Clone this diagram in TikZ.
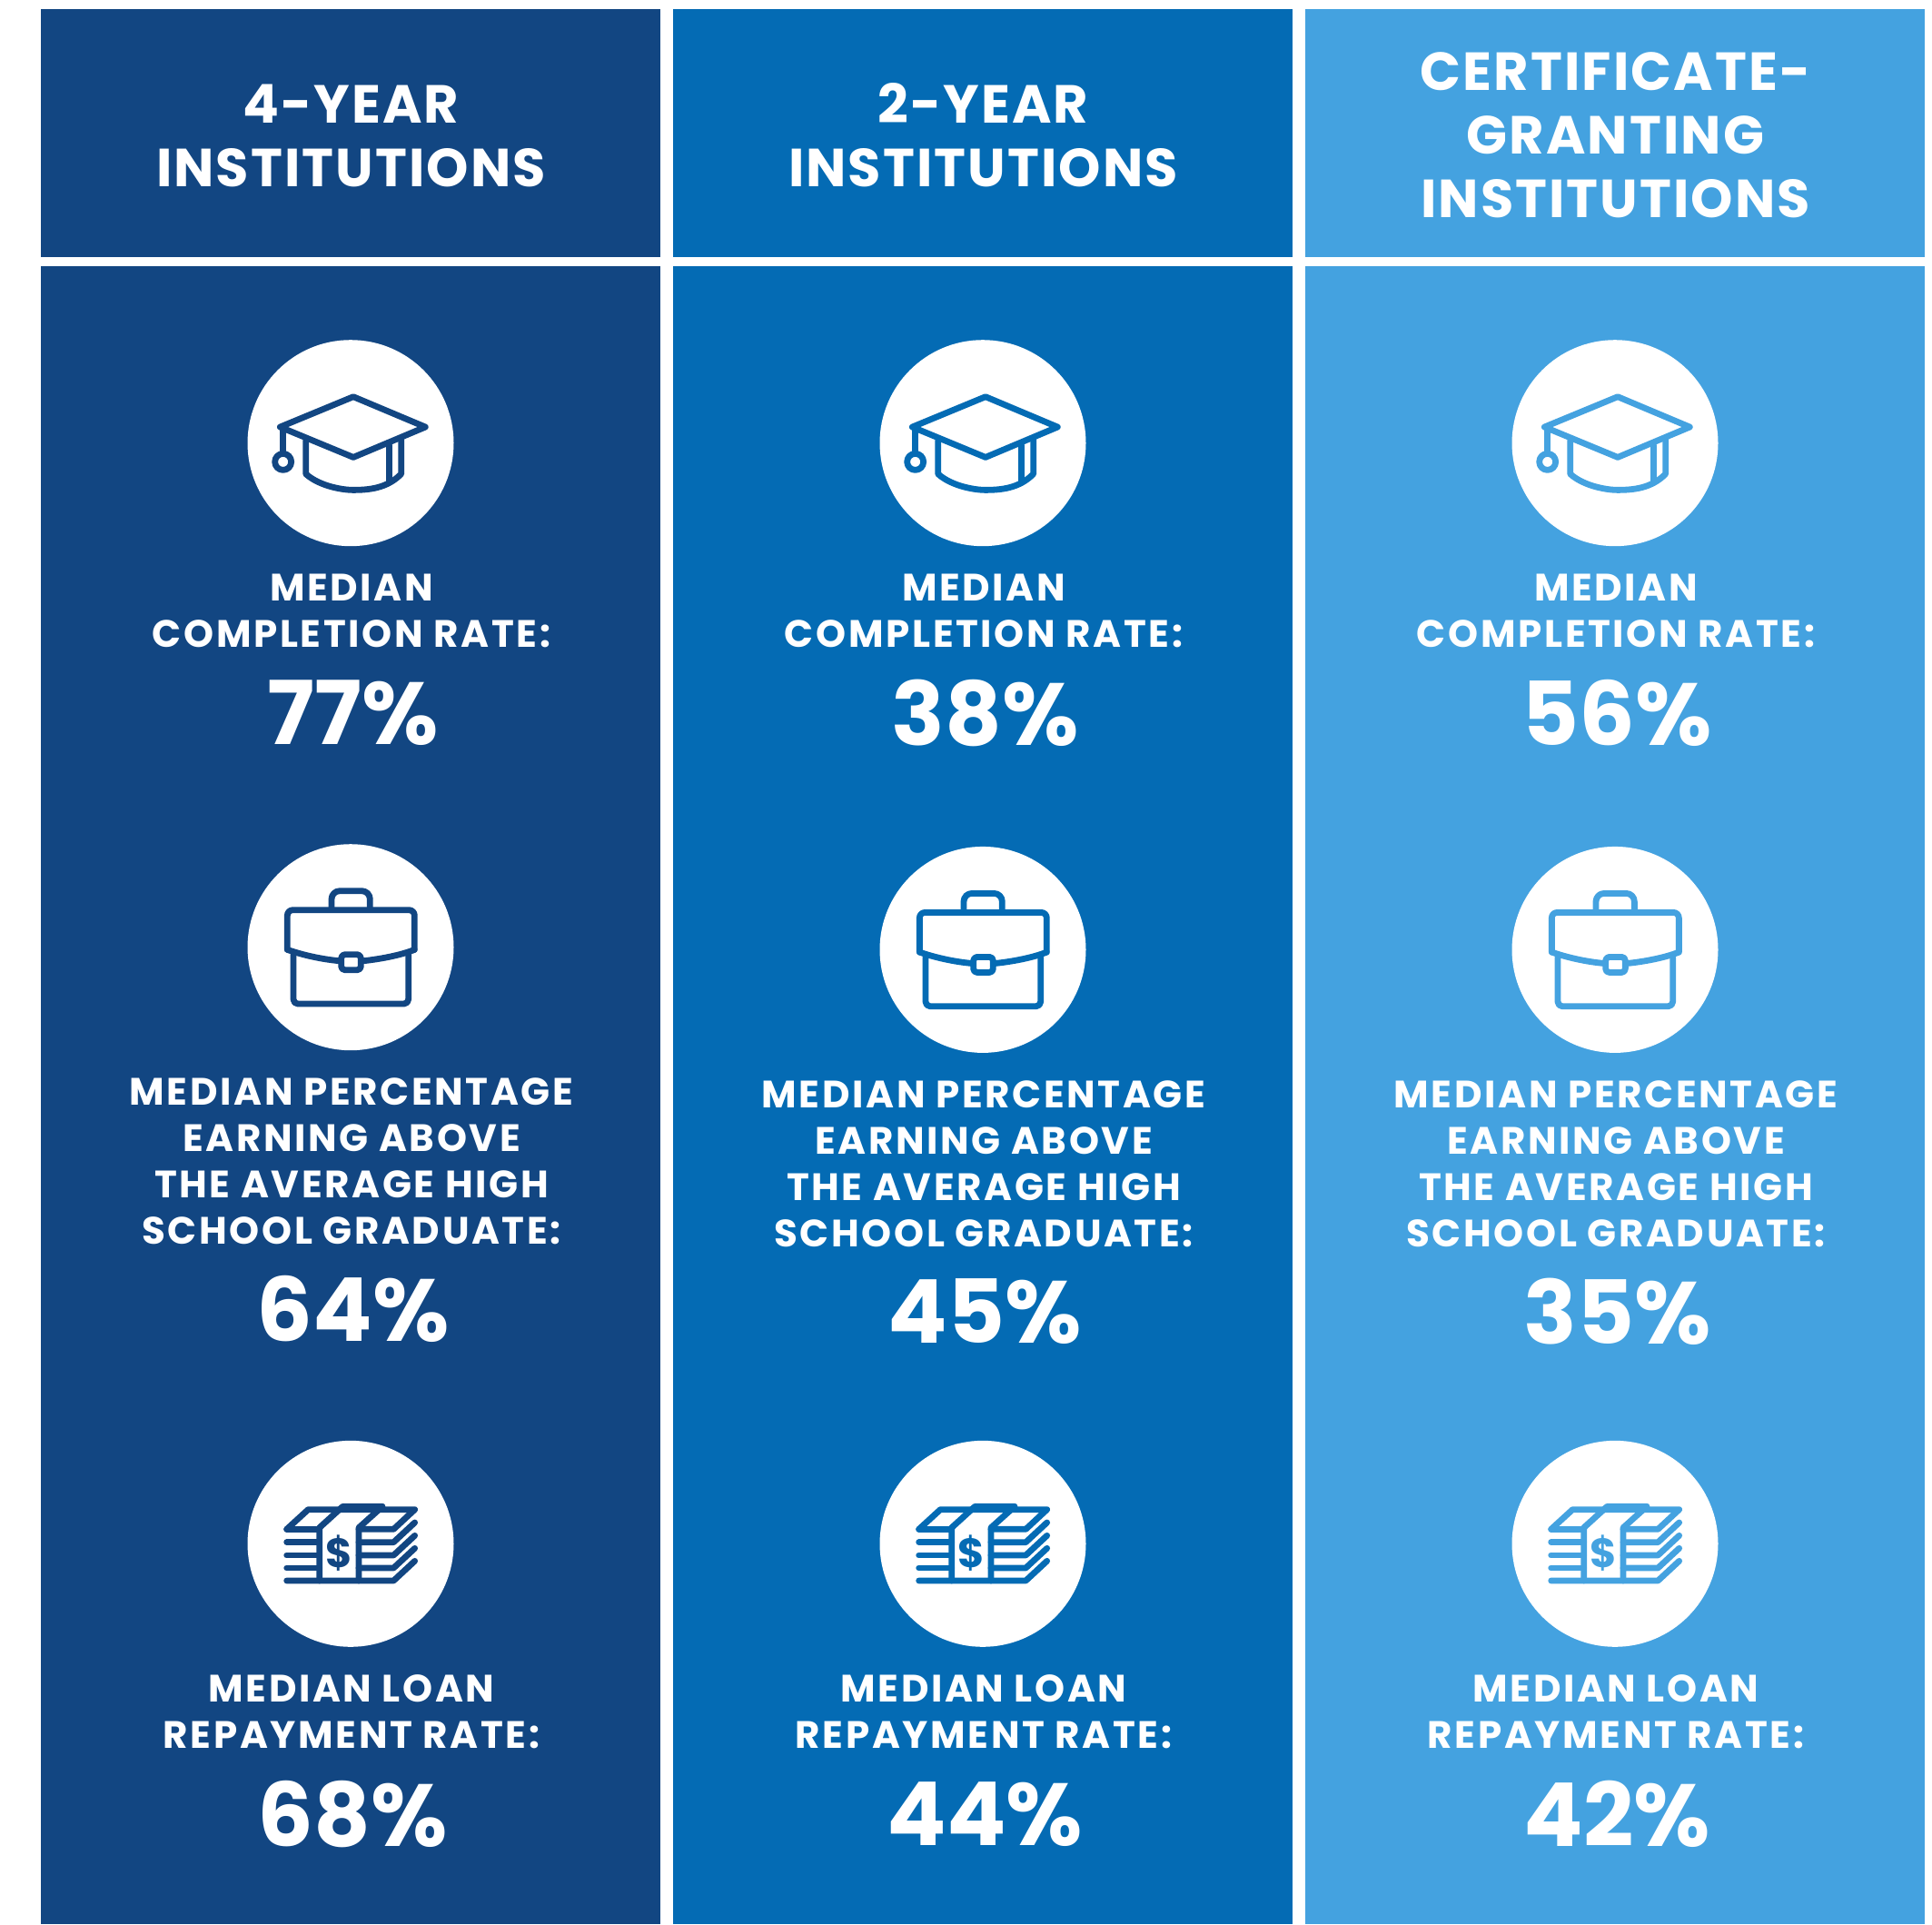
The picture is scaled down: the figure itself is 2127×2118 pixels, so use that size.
\documentclass[tikz,border=0pt]{standalone}
\usepackage{fontspec}
\setmainfont{Poppins}
\definecolor{navy}{HTML}{124682}
\definecolor{mid}{HTML}{046BB4}
\definecolor{sky}{HTML}{44A2E0}
\tikzset{
  x=1pt,y=-1pt,
  panel/.style={fill=#1,draw=none},
  disc/.style={circle,fill=white,draw=none,minimum size=227pt,inner sep=0pt},
  headtxt/.style={text=white,align=center,inner sep=0pt,font=\fontsize{59}{70}\selectfont\bfseries\addfontfeature{LetterSpace=3.5}},
  subtxt/.style={text=white,align=center,inner sep=0pt,font=\fontsize{42}{51}\selectfont\bfseries\addfontfeature{LetterSpace=6.3}},
  numtxt/.style={text=white,align=center,inner sep=0pt,font=\fontsize{97}{97}\selectfont\bfseries},
  icon/.style={draw=#1,line width=6.8pt,line join=round,line cap=round,fill=none},
}
\newcommand{\capicon}[3]{%
\begin{scope}[shift={(#1,#2)},x=.3333pt,y=-.3333pt]
\draw[icon=#3] (9,-153)--(247,-53)--(9,47)--(-233,-53)--cycle;
\draw[icon=#3] (-223,-53)--(-223,35);
\draw[icon=#3] (-223,62) circle (9pt);
\draw[icon=#3] (-148,-8)--(-148,102) .. controls (-100,145) and (-20,155) .. (7,155) .. controls (60,155) and (120,150) .. (167,102)--(167,-13);
\draw[icon=#3] (127,7)--(127,127);
\end{scope}}
\newcommand{\caseicon}[3]{%
\begin{scope}[shift={(#1,#2)},x=.3333pt,y=-.3333pt]
\draw[icon=#3,rounded corners=9pt] (-63,-128)--(-63,-186)--(64,-186)--(64,-128);
\draw[icon=#3] (-38,45) .. controls (-100,39) and (-160,25) .. (-209,8);
\draw[icon=#3,rounded corners=6pt] (-209,8)--(-209,-123)--(211,-123)--(211,8);
\draw[icon=#3] (211,8) .. controls (170,25) and (100,39) .. (42,45);
\draw[icon=#3,rounded corners=5pt] (-189,25)--(-189,187)--(191,187)--(191,25);
\draw[icon=#3,rounded corners=4pt] (-31,24) rectangle (34,75);
\end{scope}}
\newcommand{\cashicon}[3]{%
\begin{scope}[shift={(#1,#2)},x=.3333pt,y=-.3333pt]
\draw[icon=#3] (-211,-48)--(-140,-113)--(212,-113)--(142,-48)--(27,-48);
\draw[icon=#3] (-211,-48)--(-103,-48);
\draw[icon=#3] (-103,122)--(-103,-53)--(-26,-123)--(105,-123)--(27,-53)--(27,122);
\foreach \ly in {-5,38,80}{
  \draw[icon=#3] (-211,\ly)--(-103,\ly);
  \draw[icon=#3] (27,\ly)--(142,\ly)--(212,\ly-65);
}
\draw[icon=#3] (-211,122)--(142,122)--(212,57);
\end{scope}}
\begin{document}
\begin{tikzpicture}
\useasboundingbox (0,0) rectangle (2127,2118);
\fill[white] (0,0) rectangle (2127,2118);
\foreach \k/\xl/\xr/\colr in {a/45/727/navy,b/741/1423/mid,c/1437/2119/sky}{
  \fill[panel=\colr] (\xl,10) rectangle (\xr,283);
  \fill[panel=\colr] (\xl,293) rectangle (\xr,2118);
}
\node[headtxt] (ha) at (386.5,149) {4-YEAR\\INSTITUTIONS};
\node[headtxt] (hb) at (1082.5,149) {2-YEAR\\INSTITUTIONS};
\node[headtxt] (hc) at (1778.5,149) {CERTIFICATE-\\GRANTING\\INSTITUTIONS};
\foreach \k/\cx/\colr/\dy/\pa/\pb/\pc in {a/386/navy/0/77/64/68,b/1082/mid/2.7/38/45/44,c/1778/sky/2.7/56/35/42}{
  \pgfmathsetmacro{\yb}{1042.7+\dy}
  \node[disc] (d1\k) at (\cx,487.7) {};
  \node[disc] (d2\k) at (\cx,\yb) {};
  \node[disc] (d3\k) at (\cx,1699.3) {};
  \capicon{\cx}{487.7}{\colr}
  \caseicon{\cx}{\yb}{\colr}
  \cashicon{\cx}{1699.3}{\colr}
  \node[text=\colr,inner sep=0pt,font=\fontsize{45}{45}\selectfont\bfseries] (dol\k) at (\cx-13,1710) {\$};
  \node[subtxt] (s1\k) at (\cx+1,672.8) {MEDIAN\\COMPLETION RATE:};
  \node[numtxt] (n1\k) at (\cx+2.5,784.5) {\pa\%};
  \pgfmathsetmacro{\yc}{1278.6+\dy}
  \pgfmathsetmacro{\yd}{1441+\dy}
  \node[subtxt] (s2\k) at (\cx+1,\yc) {MEDIAN PERCENTAGE\\EARNING ABOVE\\THE AVERAGE HIGH\\SCHOOL GRADUATE:};
  \node[numtxt] (n2\k) at (\cx+2.5,\yd) {\pb\%};
  \node[subtxt] (s3\k) at (\cx+1,1884) {MEDIAN LOAN\\REPAYMENT RATE:};
  \node[numtxt] (n3\k) at (\cx+2.5,1997) {\pc\%};
}
\end{tikzpicture}
\end{document}
